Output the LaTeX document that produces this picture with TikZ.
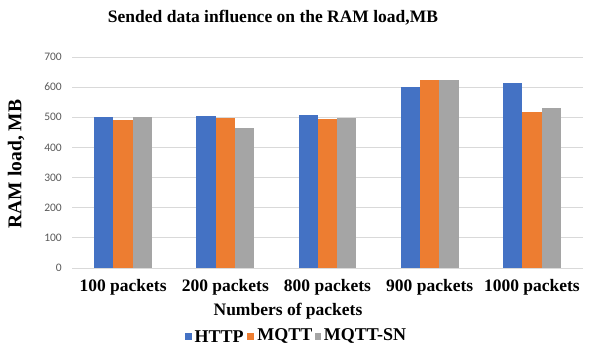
\documentclass[tikz,border=0pt]{standalone}
\usepackage{fontspec}
\setmainfont{Liberation Serif}
\newfontfamily\tickfont{Carlito}
\usetikzlibrary{positioning}
\definecolor{httpblue}{HTML}{4472C4}
\definecolor{mqttorange}{HTML}{ED7D31}
\definecolor{sngray}{HTML}{A5A5A5}
\definecolor{gridgray}{HTML}{D9D9D9}
\definecolor{ticktext}{HTML}{595959}

\begin{document}
\begin{tikzpicture}[x=1pt,y=1pt,
  gridline/.style={gridgray,line width=0.9pt},
  httpbar/.style={fill=httpblue},
  mqttbar/.style={fill=mqttorange},
  snbar/.style={fill=sngray},
  ticklbl/.style={anchor=east,inner sep=0pt,text=ticktext,font=\tickfont\fontsize{11.5}{12}\selectfont},
  catlbl/.style={anchor=base,inner sep=0pt,font=\bfseries\fontsize{17.5}{18}\selectfont},
  legmark/.style={minimum size=6.5pt,inner sep=0pt},
  legtext/.style={inner sep=0pt,font=\bfseries\fontsize{18}{20}\selectfont}]
\useasboundingbox (0,0) rectangle (596,352);

\node[anchor=base,font=\bfseries\fontsize{17.5}{20}\selectfont] (title) at (273,329.5) {Sended data influence on the RAM load,MB};
\node[rotate=90,font=\bfseries\fontsize{19.5}{20}\selectfont] (ylab) at (16,188) {RAM load, MB};

\begin{scope}[shift={(0,84)},y=0.30143pt]
\draw[gridline] (72,0) -- (583,0);
\draw[gridline] (72,100) -- (583,100);
\draw[gridline] (72,200) -- (583,200);
\draw[gridline] (72,300) -- (583,300);
\draw[gridline] (72,400) -- (583,400);
\draw[gridline] (72,500) -- (583,500);
\draw[gridline] (72,600) -- (583,600);
\draw[gridline] (72,700) -- (583,700);

\node[ticklbl] (t0) at (62,0) {0};
\node[ticklbl] (t100) at (62,100) {100};
\node[ticklbl] (t200) at (62,200) {200};
\node[ticklbl] (t300) at (62,300) {300};
\node[ticklbl] (t400) at (62,400) {400};
\node[ticklbl] (t500) at (62,500) {500};
\node[ticklbl] (t600) at (62,600) {600};
\node[ticklbl] (t700) at (62,700) {700};

\fill[httpbar] (94.15,0) rectangle ++(19.3,500);
\fill[mqttbar] (113.45,0) rectangle ++(19.3,491);
\fill[snbar] (132.75,0) rectangle ++(19.3,502);

\fill[httpbar] (196.35,0) rectangle ++(19.3,504);
\fill[mqttbar] (215.65,0) rectangle ++(19.3,497);
\fill[snbar] (234.95,0) rectangle ++(19.3,465);

\fill[httpbar] (298.55,0) rectangle ++(19.3,506);
\fill[mqttbar] (317.85,0) rectangle ++(19.3,493);
\fill[snbar] (337.15,0) rectangle ++(19.3,497);

\fill[httpbar] (400.75,0) rectangle ++(19.3,600);
\fill[mqttbar] (420.05,0) rectangle ++(19.3,623);
\fill[snbar] (439.35,0) rectangle ++(19.3,623);

\fill[httpbar] (502.95,0) rectangle ++(19.3,614);
\fill[mqttbar] (522.25,0) rectangle ++(19.3,517);
\fill[snbar] (541.55,0) rectangle ++(19.3,530);
\end{scope}

\node[catlbl] (c100) at (123.1,60) {100 packets};
\node[catlbl] (c200) at (225.3,60) {200 packets};
\node[catlbl] (c800) at (327.5,60) {800 packets};
\node[catlbl] (c900) at (429.7,60) {900 packets};
\node[catlbl] (c1000) at (531.9,60) {1000 packets};
\node[catlbl] (xlab) at (288,36.3) {Numbers of packets};

\node[legmark,fill=httpblue] (mhttp) at (188.5,15.5) {};
\node[legtext,right=2.5pt of mhttp] (lhttp) {HTTP};
\node[legmark,fill=mqttorange,right=3pt of lhttp] (mmqtt) {};
\node[legtext,right=3.5pt of mmqtt] (lmqtt) {MQTT};
\node[legmark,fill=sngray,right=2pt of lmqtt] (msn) {};
\node[legtext,right=2pt of msn] (lsn) {MQTT-SN};
\end{tikzpicture}
\end{document}
